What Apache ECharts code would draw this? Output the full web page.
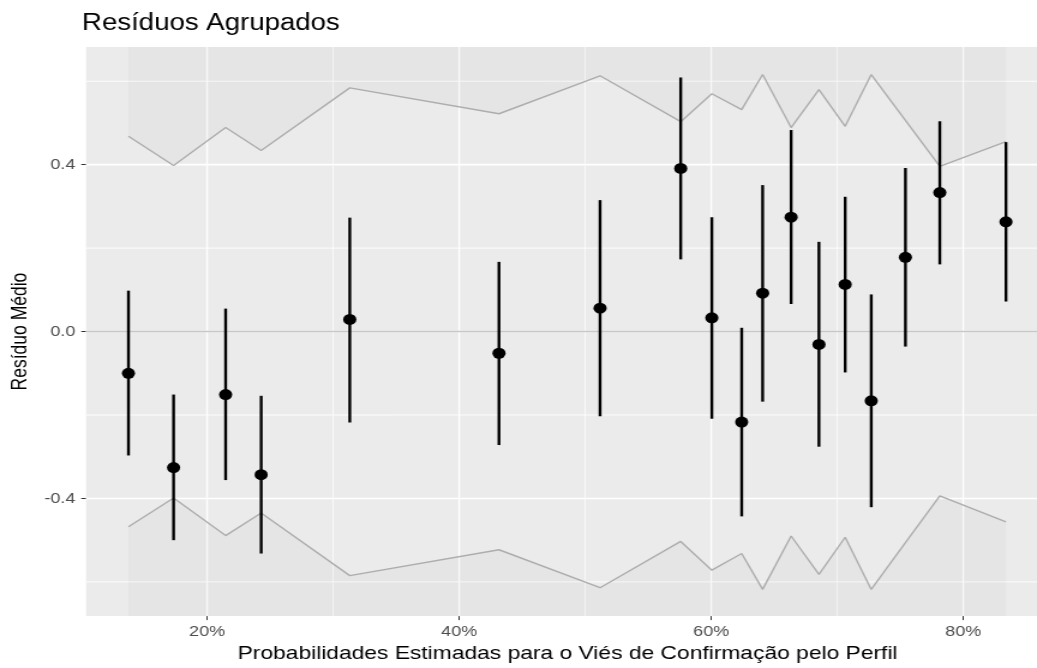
<!DOCTYPE html>
<html>
<head>
<meta charset="utf-8">
<title>Resíduos Agrupados</title>
<script src="https://cdn.jsdelivr.net/npm/echarts@6/dist/echarts.min.js"></script>
<style>
html, body { margin: 0; padding: 0; background: #fff; overflow: hidden; }
/* o gráfico original está esticado na horizontal (~1.2x) */
#chart { width: 864px; height: 668px; transform: scaleX(1.2002); transform-origin: 0 0; }
</style>
</head>
<body>
<div id="chart"></div>
<script>
// probabilidade estimada média de cada grupo (%)
var probs = [13.76, 17.34, 21.47, 24.29, 31.32, 43.16, 51.18, 57.58, 60.05,
             62.42, 64.08, 66.34, 68.55, 70.63, 72.70, 75.41, 78.14, 83.39];
// resíduo médio do grupo
var residMedio = [-0.100, -0.326, -0.151, -0.343, 0.029, -0.052, 0.056, 0.391, 0.033,
                  -0.217, 0.092, 0.274, -0.031, 0.113, -0.166, 0.178, 0.333, 0.263];
// extremos das barras
var residInf = [-0.297, -0.500, -0.356, -0.532, -0.218, -0.272, -0.203, 0.173, -0.209,
                -0.443, -0.168, 0.066, -0.276, -0.098, -0.421, -0.036, 0.161, 0.072];
var residSup = [0.098, -0.151, 0.055, -0.154, 0.273, 0.167, 0.315, 0.609, 0.274,
                0.009, 0.351, 0.483, 0.215, 0.323, 0.089, 0.392, 0.504, 0.454];
// limites (+/- 2 erros padrão)
var limiteSup = [0.468, 0.398, 0.489, 0.434, 0.584, 0.522, 0.613, 0.503, 0.570,
                 0.532, 0.616, 0.489, 0.580, 0.492, 0.616, 0.506, 0.396, 0.455];
var limiteInf = [-0.468, -0.399, -0.489, -0.435, -0.585, -0.523, -0.614, -0.503, -0.572,
                 -0.532, -0.618, -0.490, -0.582, -0.493, -0.618, -0.506, -0.394, -0.456];

var xTicks = [20, 40, 60, 80];
var xMinor = [30, 50, 70];
var yTicks = [-0.4, 0, 0.4];
var yMinor = [-0.6, -0.2, 0.2, 0.6];

var fontFamily = "'Liberation Sans', Arial, sans-serif";

function zip(a, b) {
    var out = [];
    for (var i = 0; i < a.length; i++) {
        out.push([a[i], b[i]]);
    }
    return out;
}

function gridData(major, minor, vertical) {
    var d = [];
    major.forEach(function (v) { d.push(vertical ? [v, 0, 1] : [20, v, 1]); });
    minor.forEach(function (v) { d.push(vertical ? [v, 0, 0] : [20, v, 0]); });
    return d;
}

function renderVLine(params, api) {
    var cs = params.coordSys;
    var x = api.coord([api.value(0), 0])[0];
    return {
        type: 'line',
        shape: { x1: x, y1: cs.y, x2: x, y2: cs.y + cs.height },
        style: { stroke: '#ffffff', lineWidth: api.value(2) ? 1.4 : 0.75 }
    };
}

function renderHLine(params, api) {
    var cs = params.coordSys;
    var y = api.coord([20, api.value(1)])[1];
    return {
        type: 'line',
        shape: { x1: cs.x, y1: y, x2: cs.x + cs.width, y2: y },
        style: { stroke: api.value(2) === 2 ? '#c8c8c8' : '#ffffff',
                 lineWidth: api.value(2) ? 1.6 : 0.9 }
    };
}

function renderErrorBar(params, api) {
    var lo = api.coord([api.value(0), api.value(1)]);
    var hi = api.coord([api.value(0), api.value(2)]);
    return {
        type: 'line',
        shape: { x1: lo[0], y1: lo[1], x2: hi[0], y2: hi[1] },
        style: { stroke: '#000000', lineWidth: 2.4 }
    };
}

function makeOptions() {
    var barData = [];
    for (var i = 0; i < probs.length; i++) {
        barData.push([probs[i], residInf[i], residSup[i]]);
    }
    var option = {
        animation: false,
        backgroundColor: '#ffffff',
        textStyle: { fontFamily: fontFamily },
        title: {
            text: 'Resíduos Agrupados',
            left: 68.3,
            top: 12,
            padding: 0,
            textStyle: { fontSize: 23, fontWeight: 'normal', color: '#000000', fontFamily: fontFamily, lineHeight: 23 }
        },
        grid: {
            left: 68.3, right: 0, top: 47, bottom: 48,
            show: true, backgroundColor: '#ebebeb', borderWidth: 0
        },
        xAxis: {
            type: 'value',
            min: 10.4,
            max: 85.85,
            axisLine: { show: false, onZero: false },
            axisTick: { show: true, customValues: xTicks, length: 4, lineStyle: { color: '#333333', width: 1 } },
            axisLabel: { customValues: xTicks, formatter: '{value}%', color: '#4d4d4d', fontSize: 15, margin: 8 },
            splitLine: { show: false },
            name: 'Probabilidades Estimadas para o Viés de Confirmação pelo Perfil',
            nameLocation: 'middle',
            nameGap: 26,
            nameTextStyle: { color: '#000000', fontSize: 19, padding: [0, 0, 0, 10] }
        },
        yAxis: {
            type: 'value',
            min: -0.682,
            max: 0.682,
            axisLine: { show: false, onZero: false },
            axisTick: { show: true, customValues: yTicks, length: 4, lineStyle: { color: '#333333', width: 1 } },
            axisLabel: { customValues: yTicks, color: '#4d4d4d', fontSize: 15, margin: 9,
                         formatter: function (v) { return v.toFixed(1); } },
            splitLine: { show: false },
            name: 'Resíduo Médio',
            nameLocation: 'middle',
            nameGap: 43,
            nameTextStyle: { color: '#000000', fontSize: 17.5 }
        },
        series: [
            {
                name: 'grade-x', type: 'custom', z: 1, silent: true,
                renderItem: renderVLine,
                encode: { x: 0, y: 1 },
                data: gridData(xTicks, xMinor, true)
            },
            {
                name: 'grade-y', type: 'custom', z: 1, silent: true,
                renderItem: renderHLine,
                encode: { x: 0, y: 1 },
                data: gridData(yTicks, yMinor, false)
            },
            {
                name: 'limite-sup', type: 'line', z: 2, silent: true,
                showSymbol: false, symbol: 'none',
                lineStyle: { color: '#adadad', width: 1.4 },
                areaStyle: { origin: 'end', color: 'rgba(0,0,0,0.03)' },
                data: zip(probs, limiteSup)
            },
            {
                name: 'limite-inf', type: 'line', z: 2, silent: true,
                showSymbol: false, symbol: 'none',
                lineStyle: { color: '#adadad', width: 1.4 },
                areaStyle: { origin: 'start', color: 'rgba(0,0,0,0.03)' },
                data: zip(probs, limiteInf)
            },
            {
                name: 'zero', type: 'custom', z: 3, silent: true,
                renderItem: renderHLine,
                encode: { x: 0, y: 1 },
                data: [[20, 0, 2]]
            },
            {
                name: 'barras', type: 'custom', z: 4,
                renderItem: renderErrorBar,
                encode: { x: 0, y: [1, 2] },
                data: barData
            },
            {
                name: 'resíduo médio', type: 'scatter', z: 5,
                symbol: 'circle', symbolSize: 11,
                itemStyle: { color: '#000000', opacity: 1 },
                data: zip(probs, residMedio)
            }
        ]
    };
    return option;
}

var chart = echarts.init(document.getElementById('chart'));
chart.setOption(makeOptions());
</script>
</body>
</html>
